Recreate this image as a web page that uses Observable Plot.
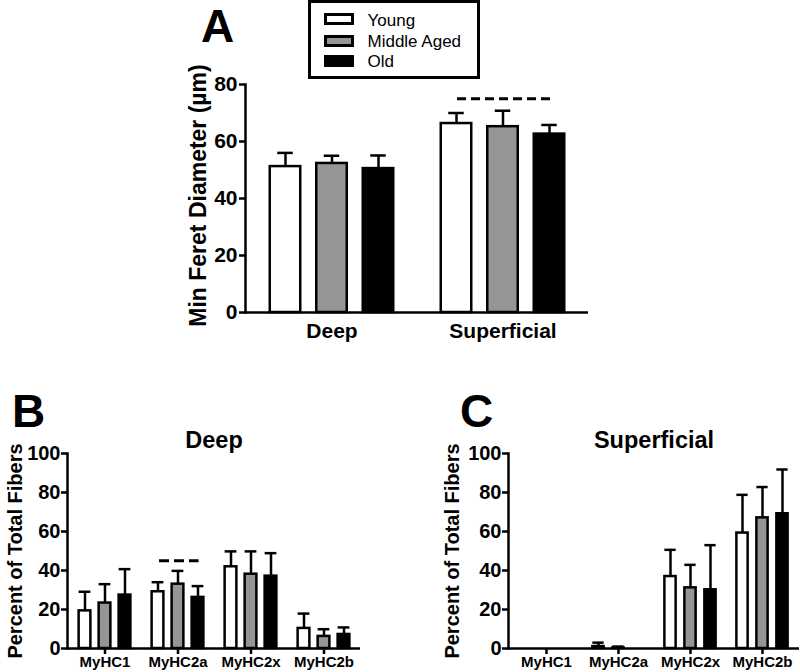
<!DOCTYPE html>
<html><head><meta charset="utf-8">
<script src="https://cdn.jsdelivr.net/npm/d3@7"></script>
<script src="https://cdn.jsdelivr.net/npm/@observablehq/plot@0.6"></script>
<style>
html,body{margin:0;padding:0;background:#fff;overflow:hidden;}
#root{position:relative;width:800px;height:672px;overflow:hidden;font-family:"Liberation Sans",Arial,sans-serif;color:#000;}
.panel{position:absolute;}
.letter{position:absolute;font-weight:bold;font-size:46px;line-height:46px;white-space:nowrap;}
#legend{position:absolute;left:308px;top:0px;width:172px;height:79px;box-sizing:border-box;border:3.5px solid #000;background:#fff;}
.sw{position:absolute;width:30px;height:12px;box-sizing:border-box;border:3px solid #000;}
.lt{position:absolute;font-size:17px;line-height:17px;white-space:nowrap;}
</style></head><body><div id="root"></div>
<script>
// ---- data: panel A (Min Feret diameter, µm) ----
const ages = ["Young", "Middle Aged", "Old"];
const ageFills = ["#ffffff", "#959597", "#000000"];
const layersA = ["Deep", "Superficial"];
const feretYoung = [51.2, 66.3];
const feretMiddle = [52.3, 65.2];
const feretOld = [50.5, 62.6];
const feretYoungErr = [4.8, 3.7];
const feretMiddleErr = [2.7, 5.6];
const feretOldErr = [4.6, 3.2];
const feretTicks = [0, 20, 40, 60, 80];
const feretSigGroup = ["Superficial"];
const feretSigY = [75];
const feretYLabel = "Min Feret Diameter (µm)";

// ---- data: panels B and C (% of total fibers) ----
const fiberTypes = ["MyHC1", "MyHC2a", "MyHC2x", "MyHC2b"];
const deepYoung = [19.3, 29.1, 41.9, 10.3];
const deepYoungErr = [9.8, 4.9, 7.9, 7.6];
const deepMiddle = [23.3, 33.0, 38.1, 6.2];
const deepMiddleErr = [9.7, 6.8, 11.7, 3.7];
const deepOld = [27.4, 26.2, 37.1, 7.2];
const deepOldErr = [13.3, 5.8, 11.8, 3.6];
const supYoung = [0, 1.0, 36.9, 59.2];
const supYoungErr = [0, 2.0, 13.7, 19.6];
const supMiddle = [0, 0.3, 31.1, 67.0];
const supMiddleErr = [0, 0.7, 11.8, 15.8];
const supOld = [0, 0, 30.1, 69.1];
const supOldErr = [0, 0, 22.9, 22.7];
const pctTicks = [0, 20, 40, 60, 80, 100];
const deepSigGroup = ["MyHC2a"];
const deepSigY = [45];
const pctYLabel = "Percent of Total Fibers";
const panelLetters = ["A", "B", "C"];
const panelTitles = ["Deep", "Superficial"];

const FONT = '"Liberation Sans", Arial, sans-serif';

function rowsOf(cats, means, errs) {
  return cats.flatMap((c, i) => ages.map((a, j) => ({cat: c, age: a, mean: means[j][i], err: errs[j][i]})));
}

function panel(o) {
  const rows = rowsOf(o.cats, o.means, o.errs);
  const marks = [];
  ages.forEach((a, j) => {
    const sub = rows.filter(d => d.age === a);
    const dx = (j - 1) * o.step;
    const errRows = sub.filter(d => d.err > 0);
    marks.push(Plot.ruleX(errRows, {x: "cat", y1: "mean", y2: d => d.mean + d.err, dx, stroke: "#000", strokeWidth: o.sw}));
    marks.push(Plot.tickY(errRows, {x: "cat", y: d => d.mean + d.err, dx, insetLeft: (o.band - o.cap) / 2, insetRight: (o.band - o.cap) / 2, stroke: "#000", strokeWidth: o.sw}));
    marks.push(Plot.barY(sub, {x: "cat", y: "mean", dx, fill: ageFills[j], stroke: "#000", strokeWidth: o.sw,
      insetLeft: (o.band - o.barW) / 2, insetRight: (o.band - o.barW) / 2}));
  });
  if (o.sig) {
    const sigRows = o.sig.groups.map((g, i) => ({cat: g, y: o.sig.ys[i]}));
    marks.push(Plot.tickY(sigRows, {x: "cat", y: "y", insetLeft: o.sig.insetLeft, insetRight: o.sig.insetRight,
      stroke: "#000", strokeWidth: o.sig.sw, strokeDasharray: o.sig.dash}));
  }
  marks.push(Plot.ruleY([0], {stroke: "#000", strokeWidth: o.sw}));
  marks.push(Plot.frame({anchor: "left", stroke: "#000", strokeWidth: o.sw}));
  marks.push(Plot.axisY({ticks: o.ticks, tickSize: 6, tickPadding: o.tickPad, fontSize: o.yFont, fontWeight: "bold", strokeWidth: o.sw, label: null, tickFormat: d => String(d)}));
  marks.push(Plot.axisX({tickSize: o.xTick, tickPadding: o.xPad, fontSize: o.xFont, fontWeight: "bold", strokeWidth: o.sw, label: null}));
  marks.push(Plot.text([o.yLabel], {frameAnchor: "left", textAnchor: "middle", rotate: -90, lineAnchor: "bottom", dx: o.yLabelDx, dy: o.yLabelDy || 0, fontSize: o.yLabelFont, fontWeight: "bold", fill: "#000"}));
  if (o.title) {
    marks.push(Plot.text([o.title], {frameAnchor: "top", textAnchor: "middle", lineAnchor: "bottom", dy: o.titleDy, fontSize: o.titleFont, fontWeight: "bold", fill: "#000"}));
  }
  const svg = Plot.plot({
    width: o.width, height: o.height,
    marginLeft: o.ml, marginRight: o.mr, marginTop: o.mt, marginBottom: o.mb,
    x: {domain: o.cats, padding: 0, axis: null},
    y: {domain: o.yDomain, axis: null},
    style: {fontFamily: FONT, fontWeight: "bold", color: "#000", background: "transparent", overflow: "visible"},
    marks
  });
  const wrap = document.createElement("div");
  wrap.className = "panel";
  wrap.style.left = o.left + "px";
  wrap.style.top = o.top + "px";
  wrap.appendChild(svg);
  return wrap;
}

const root = document.getElementById("root");

// Panel A
root.appendChild(panel({
  cats: layersA, means: [feretYoung, feretMiddle, feretOld], errs: [feretYoungErr, feretMiddleErr, feretOldErr],
  yDomain: [0, 80], ticks: feretTicks,
  left: 0, top: 0, width: 600, height: 345, ml: 245, mr: 12, mt: 84, mb: 33,
  band: 171.5, step: 46.5, barW: 31, cap: 16, sw: 2.5,
  tickPad: 2, yFont: 21, xTick: 0, xPad: 11, xFont: 21,
  yLabel: feretYLabel, yLabelDx: -40, yLabelDy: -3, yLabelFont: 23,
  sig: {groups: feretSigGroup, ys: feretSigY, insetLeft: 40, insetRight: 37, sw: 3, dash: "9,5"}
}));

// Panel B
root.appendChild(panel({
  cats: fiberTypes, means: [deepYoung, deepMiddle, deepOld], errs: [deepYoungErr, deepMiddleErr, deepOldErr],
  yDomain: [0, 100], ticks: pctTicks,
  left: 0, top: 380, width: 400, height: 292, ml: 67, mr: 40, mt: 73, mb: 24,
  band: 73.25, step: 20, barW: 12, cap: 12, sw: 2.5,
  tickPad: 1, yFont: 20, xTick: 6, xPad: 2, xFont: 15,
  yLabel: pctYLabel, yLabelDx: -46, yLabelFont: 20,
  title: panelTitles[0], titleDy: -6, titleFont: 23.5,
  sig: {groups: deepSigGroup, ys: deepSigY, insetLeft: 18, insetRight: 15.5, sw: 3, dash: "10,5"}
}));

// Panel C
root.appendChild(panel({
  cats: fiberTypes, means: [supYoung, supMiddle, supOld], errs: [supYoungErr, supMiddleErr, supOldErr],
  yDomain: [0, 100], ticks: pctTicks,
  left: 400, top: 380, width: 400, height: 292, ml: 108, mr: 1, mt: 73, mb: 24,
  band: 72.75, step: 20, barW: 12, cap: 12, sw: 2.5,
  tickPad: 1, yFont: 20, xTick: 6, xPad: 2, xFont: 15,
  yLabel: pctYLabel, yLabelDx: -50, yLabelFont: 20,
  title: panelTitles[1], titleDy: -6, titleFont: 23.5
}));

// Panel letters
[[panelLetters[0], 201, 3], [panelLetters[1], 12, 388], [panelLetters[2], 460, 388]].forEach(([t, x, y]) => {
  const s = document.createElement("div");
  s.className = "letter";
  s.style.left = x + "px";
  s.style.top = y + "px";
  s.textContent = t;
  root.appendChild(s);
});

// Legend
const legend = document.createElement("div");
legend.id = "legend";
const rowTops = [9.5, 31.5, 51.5];
const textTops = [8.5, 29.5, 49.5];
ages.forEach((a, j) => {
  const sw = document.createElement("div");
  sw.className = "sw";
  sw.style.left = "12.5px";
  sw.style.top = rowTops[j] + "px";
  sw.style.background = ageFills[j];
  legend.appendChild(sw);
  const tx = document.createElement("div");
  tx.className = "lt";
  tx.style.left = "56.5px";
  tx.style.top = textTops[j] + "px";
  tx.textContent = a;
  legend.appendChild(tx);
});
root.appendChild(legend);
</script></body></html>
